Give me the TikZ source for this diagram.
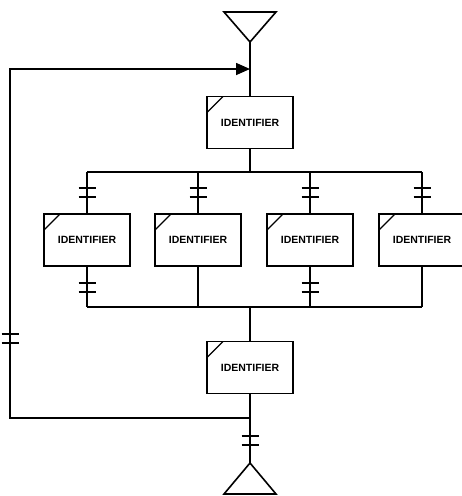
\documentclass[tikz,border=0pt]{standalone}
\usepackage{fontspec}
\setmainfont{Liberation Sans}
\usetikzlibrary{arrows.meta}
\tikzset{
  ln/.style={line width=1.6pt},
  idbox/.style={draw, line width=1.8pt, minimum width=86pt, minimum height=52pt, inner sep=0pt,
    font=\fontsize{10.5}{12}\selectfont\bfseries,
    path picture={\draw[line width=1.4pt] ([yshift=-16pt]path picture bounding box.north west) -- ++(16pt,16pt);}},
  dbar/.pic={\draw[line width=1.9pt] (-8.5,-4.5) -- (8.5,-4.5) (-8.5,4.5) -- (8.5,4.5);}
}
\begin{document}
\begin{tikzpicture}[x=1pt,y={(0pt,-1pt)}]
\useasboundingbox (0,0) rectangle (462,496);
% triangles
\draw[ln] (224,12) -- (276,12) -- (250,42) -- cycle;
\coordinate (tin) at (250,42);
\draw[ln] (250,463) -- (276,494) -- (224,494) -- cycle;
\coordinate (tout) at (250,463);
% boxes
\node[idbox] (top) at (250,122.5) {IDENTIFIER};
\node[idbox] (b1) at (87,240) {IDENTIFIER};
\node[idbox] (b2) at (198,240) {IDENTIFIER};
\node[idbox] (b3) at (310,240) {IDENTIFIER};
\node[idbox] (b4) at (422,240) {IDENTIFIER};
\node[idbox] (bot) at (250,367.5) {IDENTIFIER};
% bus coordinates
\coordinate (u1) at (87,172); \coordinate (u2) at (198,172);
\coordinate (u3) at (310,172); \coordinate (u4) at (422,172);
\coordinate (l1) at (87,307); \coordinate (l2) at (198,307);
\coordinate (l3) at (310,307); \coordinate (l4) at (422,307);
\coordinate (uc) at (250,172); \coordinate (lc) at (250,307);
\coordinate (ret) at (250,418); \coordinate (lb) at (10,418);
\coordinate (lt) at (10,69); \coordinate (ain) at (250,69);
% main flow
\draw[ln] (tin) -- (top.north);
\draw[ln] (top.south) -- (uc);
\draw[ln] (u1) -- (u4);
\draw[ln] (l1) -- (l4);
\foreach \i in {1,2,3,4}{
  \draw[ln] (u\i) -- (b\i.north);
  \draw[ln] (b\i.south) -- (l\i);
}
\foreach \x in {87,198,310,422}{ \pic at (\x,192.5) {dbar}; }
\pic at (87,287.5) {dbar};
\pic at (310,287.5) {dbar};
\draw[ln] (lc) -- (bot.north);
\draw[ln] (bot.south) -- (tout);
\pic at (250,440.5) {dbar};
% loop back
\draw[ln, -{Triangle[length=14pt,width=12pt]}] (ret) -- (lb) -- (lt) -- (ain);
\pic at (10,338.5) {dbar};
\end{tikzpicture}
\end{document}
